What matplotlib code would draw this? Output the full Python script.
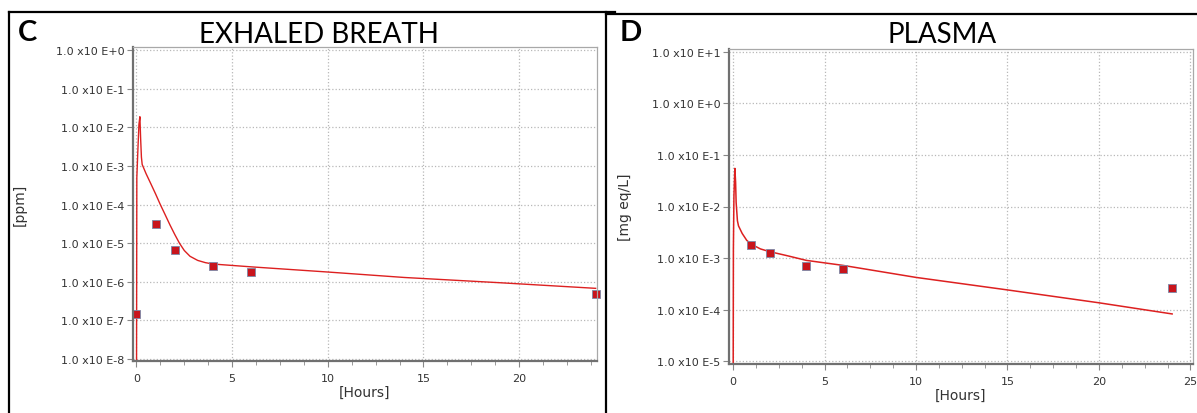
import matplotlib.pyplot as plt
from matplotlib.lines import Line2D
from matplotlib.ticker import FixedLocator, FuncFormatter, MultipleLocator
import numpy as np

# exhaled breath (panel C)
breath_model_t = [0.0, 0.02, 0.08, 0.13, 0.18, 0.22, 0.26, 0.3, 0.5, 0.75, 1.0, 1.25, 1.5, 1.75,
                  2.0, 2.25, 2.5, 2.8, 3.2, 3.6, 4.0, 6.0, 10, 14, 19, 24]
breath_model_y = [1e-10, 5e-4, 3e-3, 1.2e-2, 1.9e-2, 5e-3, 1.7e-3, 1.1e-3, 6.4e-4, 3.5e-4, 1.9e-4, 1e-4,
                  5.5e-5, 3e-5, 1.7e-5, 1e-5, 6.5e-6, 4.6e-6, 3.6e-6, 3.15e-6, 2.9e-6, 2.45e-6, 1.8e-6,
                  1.3e-6, 9.5e-7, 6.8e-7]
breath_obs_t = [0, 1, 2, 4, 6, 24]
breath_obs_y = [1.46e-7, 3.1e-5, 6.6e-6, 2.6e-6, 1.85e-6, 4.9e-7]

# plasma (panel D)
plasma_model_t = [0.0, 0.02, 0.05, 0.1, 0.14, 0.17, 0.24, 0.3, 0.5, 0.75, 1, 1.5, 2, 3, 4, 6, 10, 15, 20, 24]
plasma_model_y = [1e-7, 1.5e-3, 1.6e-2, 5.5e-2, 3e-2, 1.2e-2, 5.3e-3, 4.2e-3, 3e-3, 2.2e-3, 1.85e-3,
                  1.5e-3, 1.33e-3, 1.1e-3, 9e-4, 7.2e-4, 4.2e-4, 2.4e-4, 1.35e-4, 8.2e-5]
plasma_obs_t = [1, 2, 4, 6, 24]
plasma_obs_y = [1.77e-3, 1.25e-3, 6.9e-4, 6.1e-4, 2.6e-4]

breath_decades = list(range(-8, 1))
plasma_decades = list(range(-5, 2))

W, H = 1197, 414
fig = plt.figure(figsize=(W / 100, H / 100), dpi=100)


def px(l, t, r, b):
    return [l / W, 1 - b / H, (r - l) / W, (b - t) / H]


def fmt(v, pos):
    return "1.0 x10 E%+d" % int(round(np.log10(v)))


def setup(ax, decades, xlim, ylim, xmaj, ylab):
    ax.set_yscale("log")
    ax.set_xlim(*xlim)
    ax.set_ylim(*ylim)
    ax.yaxis.set_major_locator(FixedLocator([10.0 ** d for d in decades]))
    ax.yaxis.set_minor_locator(FixedLocator([]))
    ax.yaxis.set_major_formatter(FuncFormatter(fmt))
    ax.xaxis.set_major_locator(MultipleLocator(xmaj))
    ax.xaxis.set_minor_locator(MultipleLocator(1.25))
    ax.grid(True, which="major", color="#b8b8b8", linestyle=":", linewidth=0.9)
    ax.tick_params(which="both", direction="out", color="#888888", labelcolor="#333333", labelsize=8)
    ax.tick_params(which="major", length=4, pad=2)
    ax.tick_params(axis="x", which="major", pad=5)
    ax.tick_params(which="minor", length=3)
    for s in ["left", "bottom"]:
        ax.spines[s].set_color("#707070")
        ax.spines[s].set_linewidth(1.6)
    for s in ["top", "right"]:
        ax.spines[s].set_color("#a8a8a8")
        ax.spines[s].set_linewidth(0.9)
    ax.set_xlabel("[Hours]", fontsize=10, color="#333333", labelpad=1)
    ax.set_ylabel(ylab, fontsize=10, color="#333333")


red = "#dd2020"

axc = fig.add_axes(px(133, 48, 597, 362))
setup(axc, breath_decades, (-0.18, 24.07), (10 ** -8.05, 10 ** 0.085), 5, "[ppm]")
axc.plot(breath_model_t, breath_model_y, color=red, lw=1.0)
axc.plot(breath_obs_t, breath_obs_y, "s", ms=5.8, mfc="#c8141c", mec="#7a88a8", mew=0.6, clip_on=False)
axc.yaxis.set_label_coords(-0.228, 0.5)

axd = fig.add_axes(px(729, 50, 1193, 365))
setup(axd, plasma_decades, (-0.22, 25.14), (10 ** -5.058, 10 ** 1.058), 5, "[mg eq/L]")
axd.plot(plasma_model_t, plasma_model_y, color=red, lw=1.1)
axd.plot(plasma_obs_t, plasma_obs_y, "s", ms=5.8, mfc="#c8141c", mec="#7a88a8", mew=0.6, clip_on=False)
axd.yaxis.set_label_coords(-0.21, 0.5)

# panel titles and letters
fig.text(319 / W, 1 - 35 / H, "EXHALED BREATH", family="Lato", fontsize=20, ha="center", va="center")
fig.text(942 / W, 1 - 35 / H, "PLASMA", family="Lato", fontsize=20, ha="center", va="center")
fig.text(18 / W, 1 - 33 / H, "C", family="Lato", fontweight="bold", fontsize=21, ha="left", va="center")
fig.text(620 / W, 1 - 33 / H, "D", family="Lato", fontweight="bold", fontsize=21, ha="left", va="center")

# panel frames
def hline(x0, x1, y):
    fig.add_artist(Line2D([x0 / W, x1 / W], [1 - y / H, 1 - y / H], color="black", lw=1.6))


def vline(x, y0, y1):
    fig.add_artist(Line2D([x / W, x / W], [1 - y0 / H, 1 - y1 / H], color="black", lw=1.6))


hline(9, 615, 13)
vline(9, 13, 414)
vline(606, 13, 414)
hline(606, 1197, 15)

fig.savefig("out.png", dpi=100)
